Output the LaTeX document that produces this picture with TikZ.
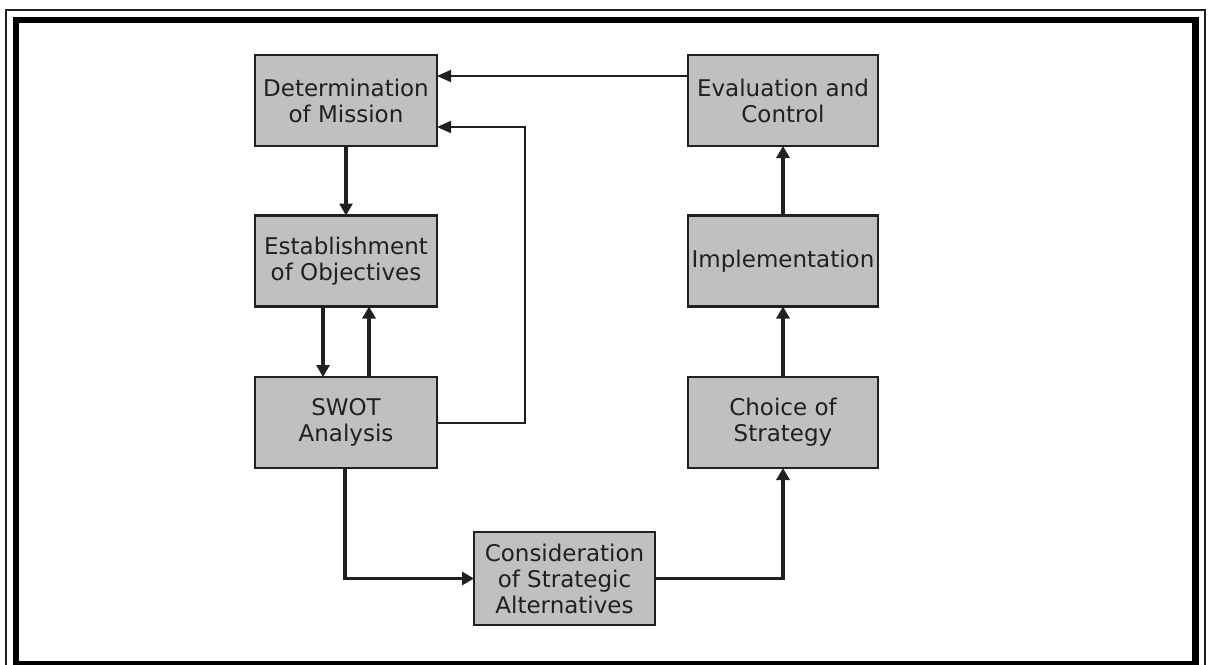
\documentclass[tikz,border=0pt]{standalone}
\usepackage{fontspec}
\setmainfont{DejaVu Sans}
\usetikzlibrary{arrows.meta}
\definecolor{ink}{HTML}{231F20}
\definecolor{boxfill}{HTML}{C0C0C0}

\begin{document}
\begin{tikzpicture}[x=0.5pt,y=-0.5pt,
  stage/.style={draw=ink, fill=boxfill, line width=1.3pt, inner sep=0pt,
    outer sep=0pt, align=center, text=ink,
    font=\fontsize{11.5}{13}\selectfont},
  leftstage/.style={stage, minimum width=91pt, minimum height=45.5pt},
  rightstage/.style={stage, minimum width=95pt, minimum height=45.5pt},
  flow/.style={draw=ink, line width=1.6pt,
    -{Triangle[length=6pt,width=6.5pt]}},
  feedback/.style={draw=ink, line width=1pt,
    -{Triangle[length=7pt,width=6pt]}}]

\useasboundingbox (0,0) rectangle (1208,664);

% page frame: thin outer rule and heavy inner rule
\draw[ink, line width=1pt] (6,10) rectangle (1205,690);
\draw[black, line width=3.25pt] (16,20) rectangle (1195.5,664);

% stages of the planning process
\node[leftstage]  (mission) at (346,100.5) {Determination\\of Mission};
\node[leftstage]  (estab)   at (346,261)   {Establishment\\of Objectives};
\node[leftstage]  (swot)    at (346,422.5) {SWOT\\Analysis};
\node[stage, minimum width=90.5pt, minimum height=46.5pt]
                  (consid)  at (564.5,578.5) {Consideration\\of Strategic\\Alternatives};
\node[rightstage] (choice)  at (783,422.5) {Choice of\\Strategy};
\node[rightstage] (impl)    at (783,261)   {Implementation};
\node[rightstage] (eval)    at (783,100.5) {Evaluation and\\Control};

% main flow
\draw[flow] (mission) -- (estab);
\draw[flow] (estab.south -| 323,0) -- (swot.north -| 323,0);
\draw[flow] (swot.north -| 369,0) -- (estab.south -| 369,0);
\draw[flow] (swot.south -| 345,0) |- (consid.west);
\draw[flow] (consid.east) -| (choice.south);
\draw[flow] (choice) -- (impl);
\draw[flow] (impl) -- (eval);

% feedback loops back to the mission
\draw[feedback] (swot.east) -| (525,127) -- (mission.east |- 0,127);
\draw[feedback] (eval.west |- 0,76) -- (mission.east |- 0,76);
\end{tikzpicture}
\end{document}
